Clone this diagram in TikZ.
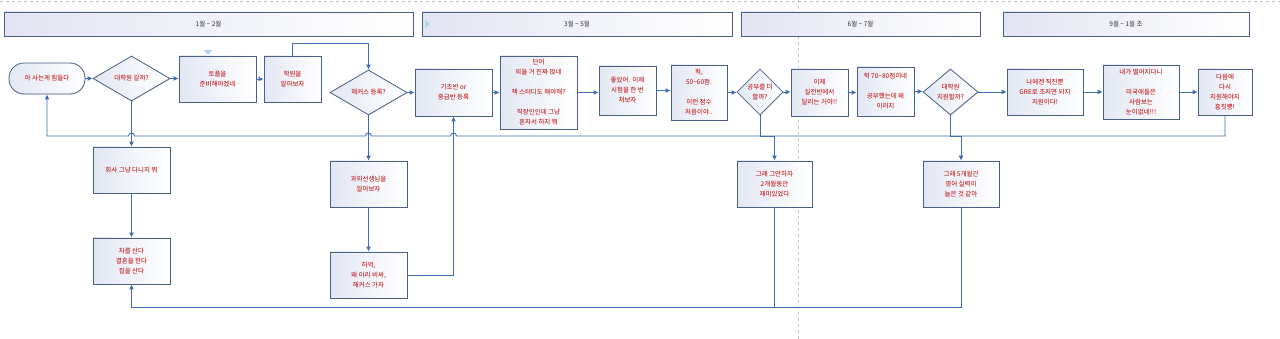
\documentclass[tikz,border=0pt]{standalone}
\usepackage{fontspec}
\setmainfont{Noto Sans CJK KR}
\usetikzlibrary{shapes.geometric,arrows.meta,calc,shadows}
\definecolor{bordc}{HTML}{4A5F85}
\definecolor{boxl}{HTML}{E2E7F3}
\definecolor{txtred}{HTML}{C00000}
\definecolor{linec}{HTML}{3F6DB5}
\definecolor{bandl}{HTML}{E2E5F2}
\definecolor{dashc}{HTML}{C4C4C4}
\definecolor{tric}{HTML}{A9D5EA}
\begin{document}
\begin{tikzpicture}[x=1pt,y=1pt,
  txt/.style={font=\fontsize{6.5pt}{10pt}\selectfont, align=center},
  box/.style={txt, draw=bordc, line width=0.8pt, left color=boxl, right color=white, text=txtred, inner sep=1pt,
     drop shadow={opacity=0.15, shadow xshift=0.8pt, shadow yshift=-1pt}},
  dia/.style={box, diamond, inner sep=0pt},
  band/.style={txt, draw=bordc, line width=0.8pt, left color=bandl, right color=white, text=black!80, minimum height=24pt},
  lnk/.style={draw=linec, line width=0.9pt},
  conn/.style={lnk, -{Latex[length=5pt,width=5pt]}}
]
\useasboundingbox (0,0) rectangle (1280,-339);
\fill[white] (0,0) rectangle (1280,-339);
\draw[dashc, dashed, line width=0.6pt] (0,-1) -- (1280,-1);
\draw[dashc, dashed, line width=0.8pt] (798,0) -- (798,-339);

% time bands
\node[band, minimum width=409pt] (b1) at (208.5,-24) {1월 \textasciitilde\ 2월};
\node[band, minimum width=310pt] (b2) at (577,-24) {3월 \textasciitilde\ 5월};
\node[band, minimum width=239pt] (b3) at (860.5,-24) {6월 \textasciitilde\ 7월};
\node[band, minimum width=246pt] (b4) at (1126,-24) {9월 \textasciitilde\ 1월 초};
\fill[tric] (425,-20) -- (430,-24) -- (425,-28) -- cycle;

\coordinate (fb) at (0,-136);
\coordinate (bot) at (0,-307);

% top row
\node[box, rounded corners=15pt, minimum width=76pt, minimum height=31pt] (term) at (47,-78.5) {아 사는게 힘들다};
\node[dia, minimum width=77pt, minimum height=45pt] (d1) at (131.5,-78.5) {대학원 갈까?};
\node[box, minimum width=77pt, minimum height=46pt] (toefl) at (217.5,-79) {토플을\\준비해야겠네};
\fill[tric] (204,-50) -- (212,-50) -- (208,-55) -- cycle;
\node[box, minimum width=57pt, minimum height=46pt] (hakwon) at (292.5,-79) {학원을\\알아보자};
\node[dia, minimum width=77pt, minimum height=45pt] (hackers) at (368.5,-92.5) {해커스 등록?};
\node[box, minimum width=77pt, minimum height=47pt] (basic) at (453.5,-92.5) {기초반 or\\중급반 등록};
\node[box, minimum width=77pt, minimum height=73pt] (words) at (538.5,-92.5) {단어\\외울 거 진짜 많네\\[10pt]책 스터디도 해야해?\\[10pt]직장인인데 그냥\\혼자서 하지 뭐};
\node[box, minimum width=57pt, minimum height=49pt] (good) at (627.5,-90.5) {좋았어. 이제\\시험을 한 번\\쳐보자};
\node[box, minimum width=56pt, minimum height=55pt] (heok1) at (699,-92.5) {헉,\\50\textasciitilde60점.\\[10pt]이런 점수\\처음이야..};
\node[dia, minimum width=46pt, minimum height=46pt] (more) at (760,-92) {공부를 더\\할까?};
\node[box, minimum width=57pt, minimum height=47pt] (real) at (819.5,-92.5) {이제\\실전반에서\\달리는 거야!!};
\node[box, minimum width=57pt, minimum height=49pt] (heok2) at (885.5,-91.5) {헉 70\textasciitilde80점이네\\[10pt]공부했는데 왜\\이러지};
\node[dia, minimum width=55pt, minimum height=46pt] (apply) at (950.5,-92) {대학원\\지원할까?};
\node[box, minimum width=76pt, minimum height=46pt] (gre) at (1045,-92) {나에겐 직진뿐\\GRE로 조지면 되지\\지원이다!};
\node[box, minimum width=76pt, minimum height=54pt] (fail) at (1141,-92) {내가 떨어지다니\\[10pt]미국애들은\\사람보는\\눈이없네!!!};
\node[box, minimum width=54pt, minimum height=46pt] (next) at (1225,-92) {다음에\\다시\\지원해야지\\흥칫뿡!};

% lower nodes
\node[box, minimum width=77pt, minimum height=46pt] (company) at (131.5,-170) {회사 그냥 다니지 뭐};
\node[box, minimum width=77pt, minimum height=46pt] (car) at (131.5,-261) {차를 산다\\결혼을 한다\\집을 산다};
\node[box, minimum width=77pt, minimum height=46pt] (tutor) at (368.5,-184) {과외선생님을\\알아보자};
\node[box, minimum width=77pt, minimum height=46pt] (expensive) at (368.5,-275) {허억,\\왜 이리 비싸,\\해커스 가자};
\node[box, minimum width=75pt, minimum height=46pt] (quit) at (774.5,-184) {그래 그만하자\\2개월동안\\재미있었다};
\node[box, minimum width=76pt, minimum height=46pt] (five) at (961,-184) {그래 5개월간\\영어 실력이\\늘은 것 같아};

% main flow
\draw[conn] (term.east) -- (term.east -| d1.west);
\draw[conn] (d1.east) -- (d1.east -| toefl.west);
\draw[conn] (toefl.east) -- (toefl.east -| hakwon.west);
\draw[conn] (hakwon.north) -- ++(0,12) -| (hackers.north);
\draw[conn] (hackers.east) -- (hackers.east -| basic.west);
\draw[conn] (basic.east) -- (basic.east -| words.west);
\draw[conn] (words.east) -- (words.east -| good.west);
\draw[conn] (good.east) -- (good.east -| heok1.west);
\draw[conn] (heok1.east) -- (heok1.east -| more.west);
\draw[conn] (more.east) -- (more.east -| real.west);
\draw[conn] (real.east) -- (real.east -| heok2.west);
\draw[conn] (heok2.east) -- (heok2.east -| apply.west);
\draw[conn] (apply.east) -- (apply.east -| gre.west);
\draw[conn] (gre.east) -- (gre.east -| fail.west);
\draw[conn] (fail.east) -- (fail.east -| next.west);

% feedback loop with line hops
\draw[conn] (next.south) -- (next.south |- fb)
  -- ($(basic.south |- fb)+(3,0)$) arc[start angle=0,end angle=180,radius=3pt]
  -- ($(hackers.south |- fb)+(3,0)$) arc[start angle=0,end angle=180,radius=3pt]
  -- ($(d1.south |- fb)+(3,0)$) arc[start angle=0,end angle=180,radius=3pt]
  -- (term.south |- fb) -- (term.south);

% branches down
\draw[conn] (d1.south) -- (company.north);
\draw[conn] (company.south) -- (car.north);
\draw[conn] (hackers.south) -- (tutor.north);
\draw[conn] (tutor.south) -- (expensive.north);
\draw[conn] (expensive.east) -| (basic.south);
\draw[conn] (more.south) |- ($(quit.north)+(0,24)$) -- (quit.north);
\draw[conn] (apply.south) |- ($(five.north)+(0,24)$) -- (five.north);
\draw[lnk] (five.south) -- (five.south |- bot) -- (quit.south |- bot);
\draw[conn] (quit.south) -- (quit.south |- bot) -- (car.south |- bot) -- (car.south);
\end{tikzpicture}
\end{document}
